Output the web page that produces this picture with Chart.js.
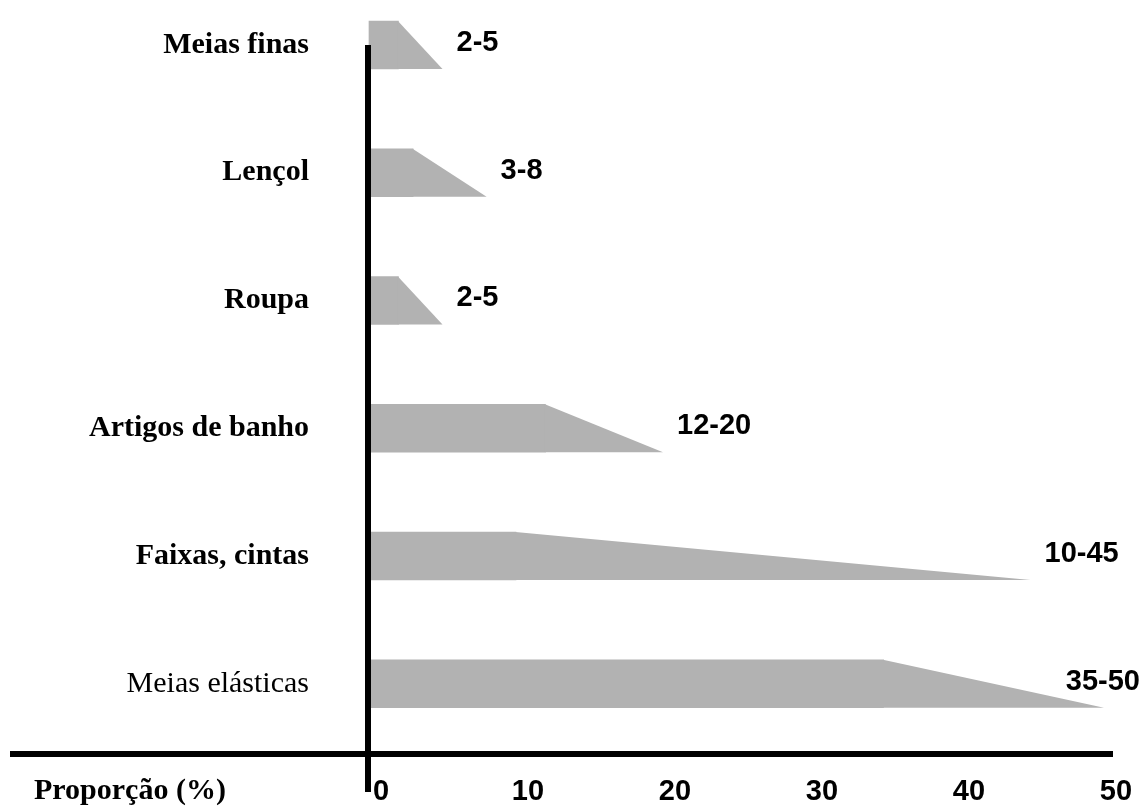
<!DOCTYPE html>
<html>
<head>
<meta charset="utf-8">
<script src="https://cdn.jsdelivr.net/npm/chart.js@4.4.1/dist/chart.umd.min.js"></script>
<style>
    html, body { margin: 0; padding: 0; background: #fff; }
</style>
</head>
<body>
<canvas id="grafico" width="1145" height="812"></canvas>
<script>
// dados
var CATEGORIAS = ['Meias finas', 'Lençol', 'Roupa', 'Artigos de banho', 'Faixas, cintas', 'Meias elásticas'];
var MINIMOS = [2, 3, 2, 12, 10, 35];
var MAXIMOS = [5, 8, 5, 20, 45, 50];
var ROTULOS = ['2-5', '3-8', '2-5', '12-20', '10-45', '35-50'];
var TICKS_X = [0, 10, 20, 30, 40, 50];
var TITULO_X = 'Proporção (%)';

var CINZA = '#b2b2b2';
var FONTE_SANS = 'Liberation Sans, Arial, sans-serif';
var FONTE_SERIF = 'Liberation Serif, Times New Roman, serif';

function armarDatos() {
    var datos = [];
    for (var i = 0; i < CATEGORIAS.length; i++) {
        datos.push({ y: i, x: [0, MINIMOS[i]] });
    }
    return datos;
}

// triangulo do minimo ate o maximo + rotulo da faixa
var pluginFaixas = {
    id: 'faixas',
    afterDatasetsDraw: function (chart) {
        var ctx = chart.ctx;
        var escalaX = chart.scales.x;
        var meta = chart.getDatasetMeta(0);
        ctx.save();
        for (var i = 0; i < meta.data.length; i++) {
            var barra = meta.data[i];
            var topo = barra.y - barra.height / 2;
            var base = barra.y + barra.height / 2;
            var xMin = escalaX.getPixelForValue(MINIMOS[i]);
            var xMax = escalaX.getPixelForValue(MAXIMOS[i]);
            ctx.fillStyle = CINZA;
            ctx.beginPath();
            ctx.moveTo(xMin - 0.5, topo);
            ctx.lineTo(xMax, base);
            ctx.lineTo(xMin - 0.5, base);
            ctx.closePath();
            ctx.fill();

            ctx.font = 'bold 29px ' + FONTE_SANS;
            ctx.fillStyle = '#000';
            ctx.textBaseline = 'middle';
            ctx.textAlign = 'left';
            var largura = ctx.measureText(ROTULOS[i]).width;
            var x = xMax + 14;
            if (x + largura > chart.width - 5) {
                x = chart.width - 5 - largura;
            }
            ctx.fillText(ROTULOS[i], x, barra.y - 2);
        }
        ctx.restore();
    }
};

// eixos grossos em preto
var pluginEixos = {
    id: 'eixos',
    afterDraw: function (chart) {
        var ctx = chart.ctx;
        var area = chart.chartArea;
        var x0 = chart.scales.x.getPixelForValue(0);
        ctx.save();
        ctx.strokeStyle = '#000';
        ctx.lineWidth = 6;
        ctx.beginPath();
        ctx.moveTo(x0 - 1, area.top);
        ctx.lineTo(x0 - 1, area.bottom + 38);
        ctx.stroke();
        ctx.beginPath();
        ctx.moveTo(10, area.bottom);
        ctx.lineTo(area.right + 9, area.bottom);
        ctx.stroke();

        ctx.font = 'bold 30px ' + FONTE_SERIF;
        ctx.fillStyle = '#000';
        ctx.textAlign = 'left';
        ctx.textBaseline = 'middle';
        ctx.fillText(TITULO_X, 34, area.bottom + 37);
        ctx.restore();
    }
};

var GRAFICO = new Chart(document.getElementById('grafico'), {
    type: 'bar',
    data: {
        datasets: [{
            data: armarDatos(),
            backgroundColor: CINZA,
            borderWidth: 0,
            barThickness: 48,
            clip: false
        }]
    },
    options: {
        indexAxis: 'y',
        responsive: false,
        animation: false,
        layout: {
            padding: { top: 45, right: 41, bottom: 0, left: 0 }
        },
        plugins: {
            legend: { display: false },
            tooltip: { enabled: false },
            title: { display: false }
        },
        scales: {
            x: {
                type: 'linear',
                min: TICKS_X[0],
                max: TICKS_X[TICKS_X.length - 1],
                afterBuildTicks: function (escala) {
                    escala.ticks = TICKS_X.map(function (v) { return { value: v }; });
                },
                afterFit: function (escala) {
                    escala.height = 58;
                },
                grid: { display: false, drawTicks: false },
                border: { display: false },
                ticks: {
                    color: '#000',
                    padding: 21,
                    labelOffset: 12,
                    maxRotation: 0,
                    font: { family: FONTE_SANS, size: 29, weight: 'bold' }
                }
            },
            y: {
                type: 'linear',
                reverse: true,
                offset: false,
                min: 0,
                max: 5.55,
                afterFit: function (escala) {
                    escala.width = 369;
                },
                grid: { display: false, drawTicks: true, tickLength: 60 },
                border: { display: false },
                ticks: {
                    stepSize: 1,
                    includeBounds: false,
                    padding: 0,
                    color: '#000',
                    callback: function (v) {
                        return CATEGORIAS[Math.round(v)];
                    },
                    font: function (c) {
                        var normal = c.tick && Math.round(c.tick.value) === CATEGORIAS.length - 1;
                        return { family: FONTE_SERIF, size: 30, weight: normal ? 'normal' : 'bold' };
                    }
                }
            }
        }
    },
    plugins: [pluginFaixas, pluginEixos]
});
</script>
</body>
</html>
